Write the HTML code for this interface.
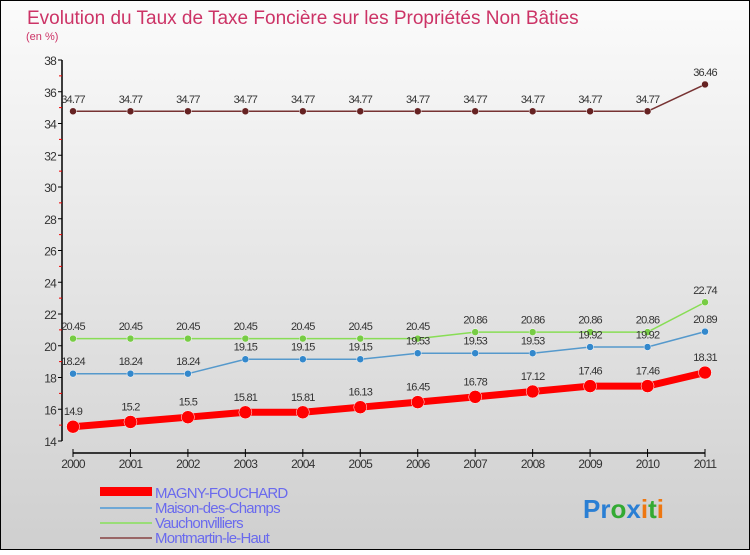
<!DOCTYPE html>
<html><head><meta charset="utf-8"><style>
body{margin:0;}
#c{width:750px;height:550px;position:relative;font-family:"Liberation Sans",sans-serif;}
</style></head><body>
<div id="c">
<svg id="s" width="750" height="550" xmlns="http://www.w3.org/2000/svg">
<defs><linearGradient id="bg" x1="0" y1="0" x2="0" y2="1"><stop offset="0" stop-color="#fbfbfb"/><stop offset="1" stop-color="#cfcfcf"/></linearGradient></defs>
<rect x="0.5" y="0.5" width="749" height="549" fill="url(#bg)" stroke="#000"/>
<text x="27" y="24" font-size="19" fill="#cc3366">Evolution du Taux de Taxe Foncière sur les Propriétés Non Bâties</text>
<text x="26" y="40" font-size="11" fill="#cc3366">(en %)</text>
<g id="axes"></g><g id="series"></g>
<g>
<rect x="100" y="487" width="52" height="9" fill="#ff0000"/>
<text x="155" y="498" font-size="15" fill="#6a6aee" letter-spacing="-0.8">MAGNY-FOUCHARD</text>
<rect x="100" y="507" width="52" height="2" fill="#6fa8d6"/>
<text x="155" y="513" font-size="15" fill="#6a6aee" letter-spacing="-0.8">Maison-des-Champs</text>
<rect x="100" y="522" width="52" height="2" fill="#99dd77"/>
<text x="155" y="528" font-size="15" fill="#6a6aee" letter-spacing="-0.8">Vauchonvilliers</text>
<rect x="100" y="537" width="52" height="2" fill="#996666"/>
<text x="155" y="543" font-size="15" fill="#6a6aee" letter-spacing="-0.8">Montmartin-le-Haut</text>
</g>
<text x="583" y="518" font-size="26" font-weight="bold"><tspan fill="#2a7fd4">Pr</tspan><tspan fill="#33aa33">o</tspan><tspan fill="#2a7fd4">x</tspan><tspan fill="#ee7711">i</tspan><tspan fill="#33aa33">t</tspan><tspan fill="#ee7711">i</tspan></text>
</svg></div>
<script>
const years=["2000","2001","2002","2003","2004","2005","2006","2007","2008","2009","2010","2011"];
const magny=[14.9,15.2,15.5,15.81,15.81,16.13,16.45,16.78,17.12,17.46,17.46,18.31];
const maison=[18.24,18.24,18.24,19.15,19.15,19.15,19.53,19.53,19.53,19.92,19.92,20.89];
const vauch=[20.45,20.45,20.45,20.45,20.45,20.45,20.45,20.86,20.86,20.86,20.86,22.74];
const mont=[34.77,34.77,34.77,34.77,34.77,34.77,34.77,34.77,34.77,34.77,34.77,36.46];
const yTicks=[14,16,18,20,22,24,26,28,30,32,34,36,38];
const NS="http://www.w3.org/2000/svg";
const X=i=>73+i*(632/11);
const Y=v=>60+(38-v)*(381/24);
function mk(t,a,p){const e=document.createElementNS(NS,t);for(const k in a)e.setAttribute(k,a[k]);p.appendChild(e);return e;}
const ax=document.getElementById('axes');
let yl=mk('line',{x1:62,y1:60,x2:62,y2:441,stroke:'#000','stroke-width':1.5},ax);


yTicks.forEach(v=>{
 mk('line',{x1:58,y1:Y(v),x2:62,y2:Y(v),stroke:'#000'},ax);
 if(v<38){mk('line',{x1:59,y1:Y(v+1),x2:62,y2:Y(v+1),stroke:'#e00'},ax);}
 const t=mk('text',{x:56,y:Y(v)+5,'font-size':12,fill:'#333','text-anchor':'end','letter-spacing':'-0.8'},ax);
 t.textContent=v;
 
 
});
let xl=mk('line',{x1:73,y1:453,x2:705,y2:453,stroke:'#000','stroke-width':1.5},ax);


years.forEach((y,i)=>{
 mk('line',{x1:X(i),y1:449,x2:X(i),y2:457,stroke:'#000'},ax);
 const t=mk('text',{x:X(i),y:468,'font-size':12,fill:'#333','text-anchor':'middle','letter-spacing':'-0.8'},ax);
 t.textContent=y;
 
 
});
const sg=document.getElementById('series');
function series(d,col,lw,r,name,dot){
 const g=mk('g',{},sg);
 
 
 const l=mk('polyline',{points:d.map((v,i)=>X(i)+','+Y(v)).join(' '),fill:'none',stroke:col,'stroke-width':lw,'stroke-linejoin':'round'},g);
 
 
 d.forEach((v,i)=>{
  const c=mk('circle',{cx:X(i),cy:Y(v),r:r,fill:dot,stroke:'#fff','stroke-width':0.5},g);
  
  
  const t=mk('text',{x:X(i),y:Y(v)-(r+5),'font-size':11,fill:'#333','text-anchor':'middle','letter-spacing':'-0.8'},g);
  t.textContent=String(v).replace('.',r>5?'.':'.');
  
  
 });
}
series(mont,'#773333',1.5,3.5,'montmartin','#662222');
series(vauch,'#88dd55',1.5,3.5,'vauchonvilliers','#77cc44');
series(maison,'#5599cc',1.5,3.5,'maison','#3388cc');
series(magny,'#ff0000',7,6.5,'magny','#ff0000');
</script>
</body></html>
